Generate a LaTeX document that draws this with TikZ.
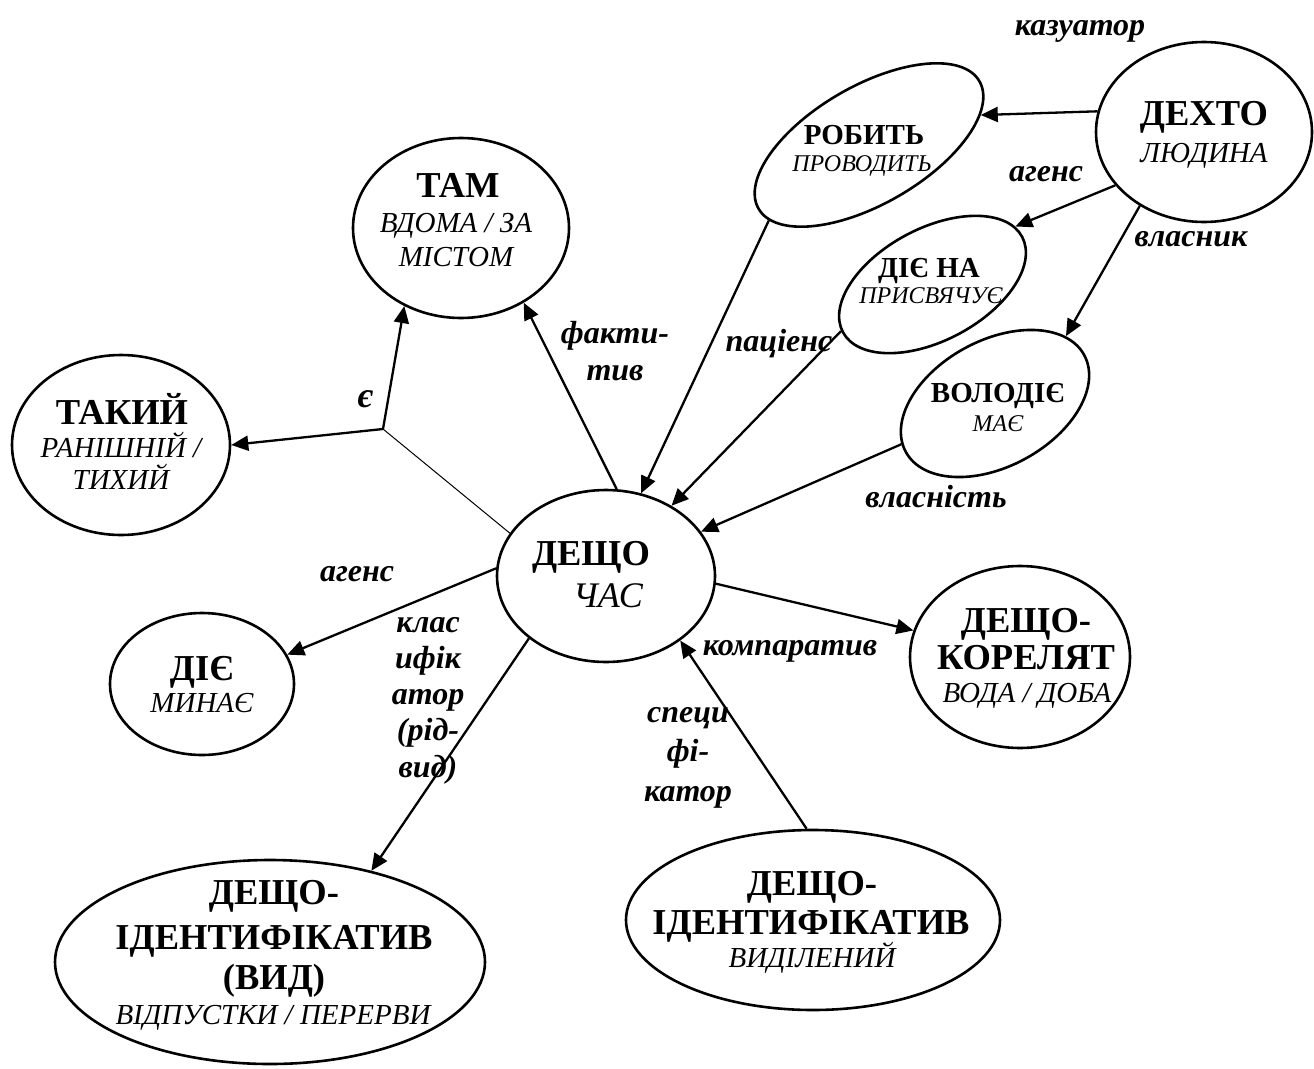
\documentclass[tikz,border=0pt]{standalone}
\usepackage{fontspec}
\setmainfont{Liberation Serif}
\usetikzlibrary{shapes.geometric,arrows.meta}

\begin{document}
\begin{tikzpicture}[x=1pt,y=-1pt,
  oval/.style={draw, ellipse, line width=2.6pt, inner sep=0pt, outer sep=1.3pt},
  conn/.style={line width=2.3pt, -{Triangle[length=17pt,width=15pt]}},
  hairline/.style={line width=1pt},
  big/.style={font=\fontsize{36.5}{40}\selectfont\bfseries, anchor=base, inner sep=0pt},
  mid/.style={font=\fontsize{29}{32}\selectfont\bfseries, anchor=base, inner sep=0pt},
  sub/.style={font=\fontsize{29}{32}\selectfont\itshape, anchor=base, inner sep=0pt},
  subsmall/.style={font=\fontsize{24}{28}\selectfont\itshape, anchor=base, inner sep=0pt},
  rel/.style={font=\fontsize{32}{37}\selectfont\bfseries\itshape, inner sep=0pt, align=center},
  relbase/.style={font=\fontsize{32}{37}\selectfont\bfseries\itshape, inner sep=0pt, anchor=base}
]
\path[use as bounding box] (0,0) rectangle (1314,1068);

% ---------- ovals ----------
\node[oval, minimum width=216pt, minimum height=180pt] (dehto) at (1204,132) {};
\node[oval, minimum width=255pt, minimum height=118pt, rotate=30] (robyt) at (869,145) {};
\node[oval, minimum width=203pt, minimum height=112pt, rotate=28] (diena) at (932.5,284.5) {};
\node[oval, minimum width=203pt, minimum height=126pt, rotate=28.5] (volodie) at (995,403.5) {};
\node[oval, minimum width=216pt, minimum height=180pt] (tam) at (461,228) {};
\node[oval, minimum width=218pt, minimum height=180pt] (takyi) at (121,445) {};
\node[oval, minimum width=218pt, minimum height=172pt] (deshcho) at (606,576) {};
\node[oval, minimum width=184pt, minimum height=142pt] (die) at (202,684) {};
\node[oval, minimum width=220pt, minimum height=182pt] (korelyat) at (1020,657) {};
\node[oval, minimum width=430pt, minimum height=204pt] (ident1) at (270,962) {};
\node[oval, minimum width=374pt, minimum height=180pt] (ident2) at (813,920) {};

% ---------- texts inside the ovals ----------
\node[big] (dehto-t) at (1204,125) {ДЕХТО};
\node[sub] (dehto-s) at (1204,162.5) {ЛЮДИНА};

\node[mid] (robyt-t) at (864,144.5) {РОБИТЬ};
\node[subsmall] (robyt-s) at (862,171) {ПРОВОДИТЬ};

\node[mid] (diena-t) at (929,277.5) {ДІЄ НА};
\node[subsmall] (diena-s) at (931,303) {ПРИСВЯЧУЄ};

\node[mid] (volodie-t) at (998,402.5) {ВОЛОДІЄ};
\node[subsmall] (volodie-s) at (998,431) {МАЄ};

\node[big] (tam-t) at (458,197) {ТАМ};
\node[sub] (tam-s1) at (456,232.5) {ВДОМА / ЗА};
\node[sub] (tam-s2) at (456,266.5) {МІСТОМ};

\node[big] (takyi-t) at (122,424) {ТАКИЙ};
\node[sub] (takyi-s1) at (121,457.5) {РАНІШНІЙ /};
\node[sub] (takyi-s2) at (121,489.5) {ТИХИЙ};

\node[big] (deshcho-t) at (591,565) {ДЕЩО};
\node[font=\fontsize{36}{40}\selectfont\itshape, anchor=base, inner sep=0pt] (deshcho-s) at (608,607) {ЧАС};

\node[big] (die-t) at (202,680) {ДІЄ};
\node[sub] (die-s) at (202,712.5) {МИНАЄ};

\node[big] (korelyat-t1) at (1026,632) {ДЕЩО-};
\node[big] (korelyat-t2) at (1026,669) {КОРЕЛЯТ};
\node[sub] (korelyat-s) at (1027,702.5) {ВОДА / ДОБА};

\node[big] (ident1-t1) at (274,904) {ДЕЩО-};
\node[big] (ident1-t2) at (274,949) {ІДЕНТИФІКАТИВ};
\node[big] (ident1-t3) at (274,989) {(ВИД)};
\node[sub] (ident1-s) at (273,1024.5) {ВІДПУСТКИ / ПЕРЕРВИ};

\node[big] (ident2-t1) at (812,895) {ДЕЩО-};
\node[big] (ident2-t2) at (811,934) {ІДЕНТИФІКАТИВ};
\node[sub] (ident2-s) at (812,967.5) {ВИДІЛЕНИЙ};

% ---------- connectors ----------
\coordinate (jn) at (383,429);

\draw[conn] (dehto.169) -- (robyt.-15);
\draw[conn] (dehto.211) -- (diena.7);
\draw[conn] (dehto.229) -- (volodie.15.5);
\draw[conn] (robyt.187) -- (deshcho.67);
\draw[conn] (diena.179) -- (deshcho.47);
\draw[conn] (volodie.175.5) -- (deshcho.25);
\draw[conn] (deshcho.83) -- (tam.310.6);
\draw[hairline] (deshcho.156) -- (jn);
\draw[conn] (jn) -- (tam.234);
\draw[conn] (jn) -- (takyi.0.5);
\draw[conn] (deshcho.176) -- (die.19);
\draw[conn] (deshcho.219) -- (ident1.42);
\draw[conn] (deshcho.356) -- (korelyat.166.5);
\draw[conn] (ident2.94) -- (deshcho.319.5);

% ---------- relation labels ----------
\node[relbase] (l-kaz) at (1080,35) {казуатор};
\node[relbase] (l-ag1) at (1046,181) {агенс};
\node[relbase] (l-vlasnyk) at (1191,246) {власник};
\node[relbase] (l-pac) at (779,351) {паціенс};
\node[rel] (l-fakt) at (615,351.5) {факти-\\тив};
\node[relbase, font=\fontsize{36}{40}\selectfont\bfseries\itshape] (l-je) at (365,407) {є};
\node[relbase] (l-vlast) at (936,507) {власність};
\node[relbase] (l-ag2) at (357,581) {агенс};
\node[rel, font=\fontsize{32}{36.25}\selectfont\bfseries\itshape] (l-klas) at (428,700.5) {клас\\ифік\\атор\\(рід-\\вид)};
\node[relbase] (l-komp) at (790,655) {компаратив};
\node[rel, font=\fontsize{32}{39.5}\selectfont\bfseries\itshape] (l-spec) at (688,757.5) {специ\\фі-\\катор};
\end{tikzpicture}
\end{document}
